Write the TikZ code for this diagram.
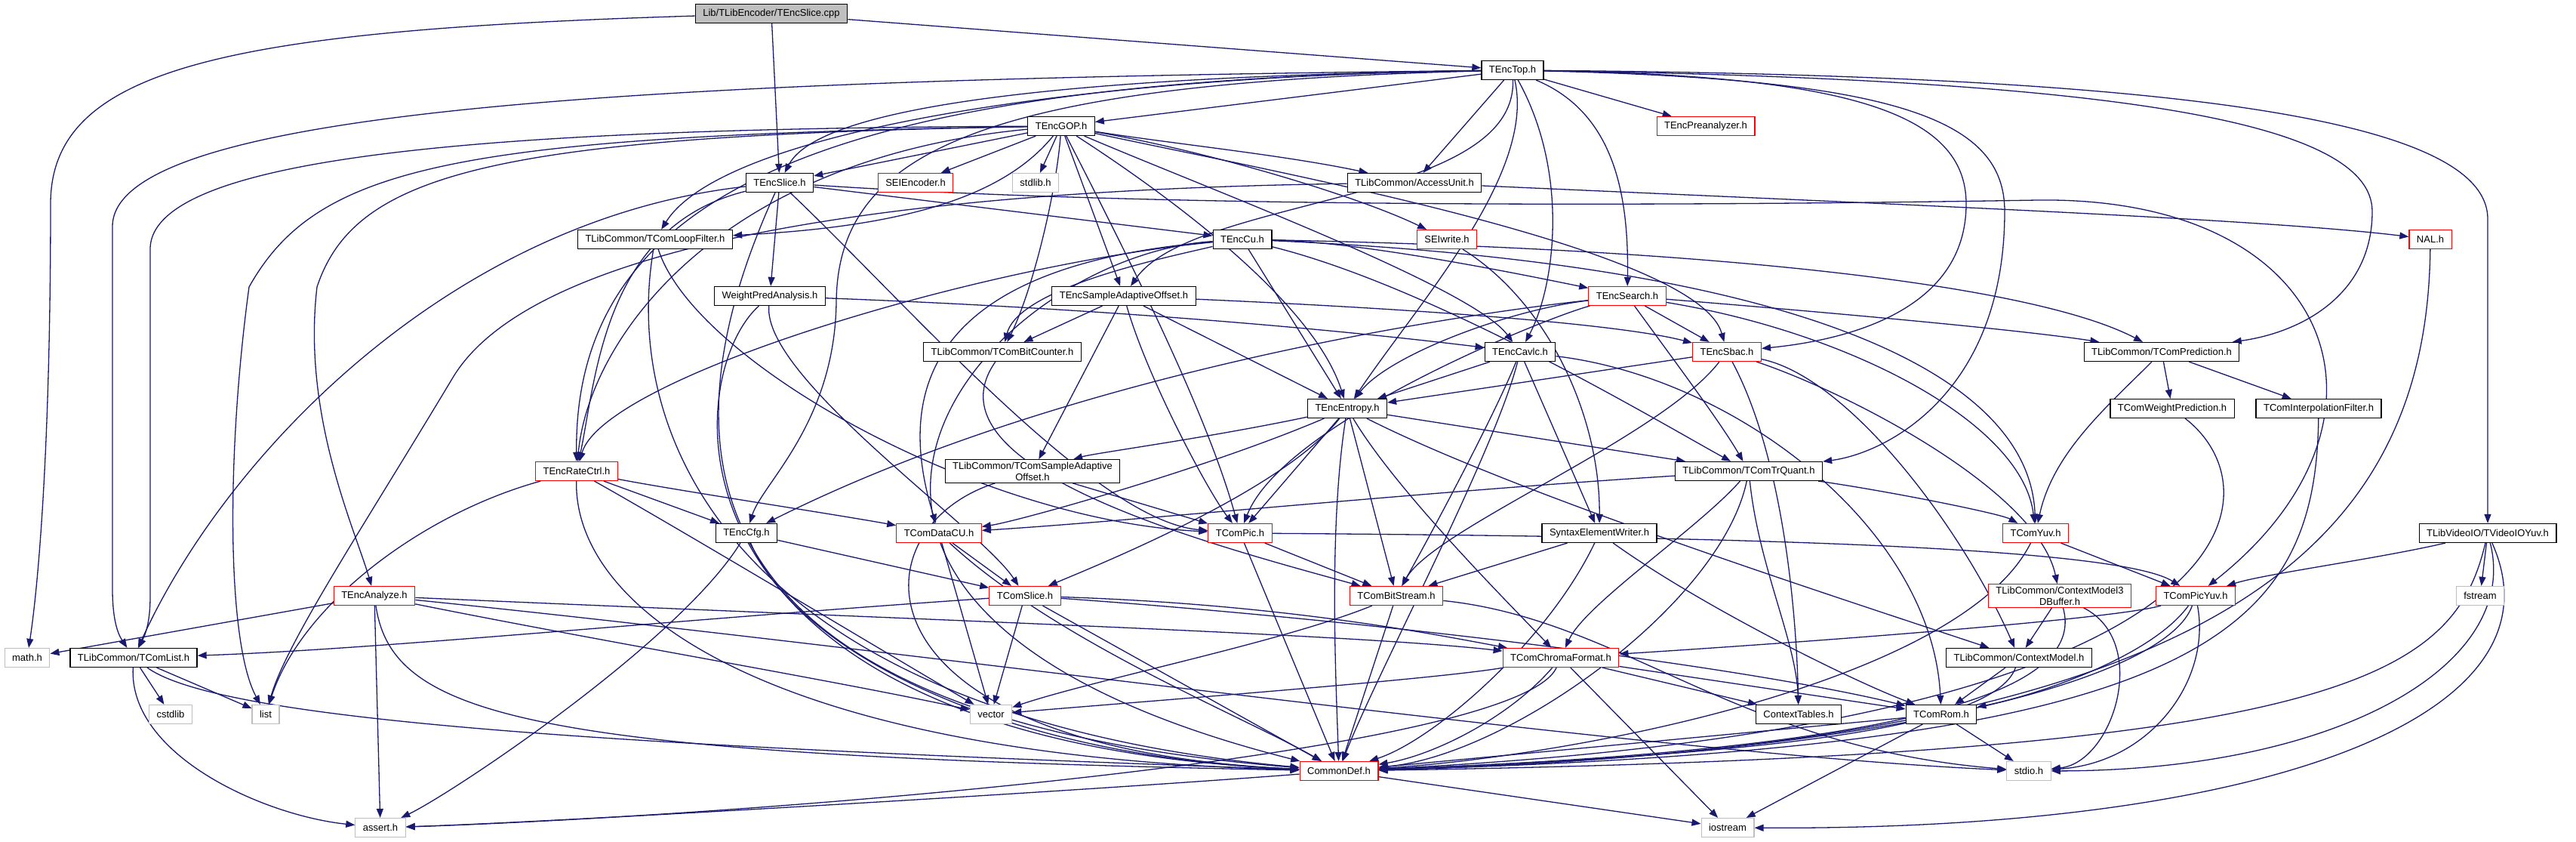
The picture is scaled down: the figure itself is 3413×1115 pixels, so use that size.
\documentclass[tikz,border=0pt]{standalone}
\usepackage{fontspec}
\setmainfont{Liberation Sans}
\usetikzlibrary{arrows.meta}
\definecolor{edgeblue}{HTML}{191970}
\definecolor{truncred}{HTML}{FF0000}
\definecolor{sysgray}{HTML}{BFBFBF}
\pgfdeclarelayer{paper}
\pgfdeclarelayer{wires}
\pgfsetlayers{paper,wires,main}

\begin{document}
\begin{tikzpicture}[x=1pt, y=-1pt,
  incbox/.style={rectangle, draw=black, fill=white, line width=1.2pt, minimum height=25pt,
                 inner xsep=10pt, inner ysep=3pt, align=center, font=\fontsize{13}{15}\selectfont},
  truncbox/.style={incbox, draw=truncred},
  sysbox/.style={incbox, draw=sysgray},
  rootbox/.style={incbox, fill=sysgray},
  incl/.style={draw=edgeblue, line width=1.3pt, -{Triangle[length=12pt, width=9pt]}},
]
\useasboundingbox (0,0) rectangle (3413,1115);
\begin{pgfonlayer}{paper}
\fill[white] (0,0) rectangle (3413,1115);
\end{pgfonlayer}
% ---- files, row by row
\node[rootbox] (cpp) at (1022,18) {Lib/TLibEncoder/TEncSlice.cpp};
\node[incbox] (top) at (2004,93) {TEncTop.h};
\node[incbox] (gop) at (1406,167) {TEncGOP.h};
\node[truncbox] (prea) at (2260,167) {TEncPreanalyzer.h};
\node[incbox] (sliceh) at (1033,242) {TEncSlice.h};
\node[truncbox] (seienc) at (1213,242) {SEIEncoder.h};
\node[sysbox] (stdlib) at (1372,242) {stdlib.h};
\node[incbox] (au) at (1874,242) {TLibCommon/AccessUnit.h};
\node[incbox] (loop) at (868,317) {TLibCommon/TComLoopFilter.h};
\node[incbox] (cu) at (1646,317) {TEncCu.h};
\node[truncbox] (seiw) at (1917,317) {SEIwrite.h};
\node[truncbox] (nal) at (3220,317) {NAL.h};
\node[incbox] (wpa) at (1020,392) {WeightPredAnalysis.h};
\node[incbox] (esao) at (1489,392) {TEncSampleAdaptiveOffset.h};
\node[truncbox] (search) at (2156,392) {TEncSearch.h};
\node[incbox] (bitcnt) at (1328,466) {TLibCommon/TComBitCounter.h};
\node[incbox] (cavlc) at (2014,466) {TEncCavlc.h};
\node[truncbox] (sbac) at (2288,466) {TEncSbac.h};
\node[incbox] (pred) at (2864,466) {TLibCommon/TComPrediction.h};
\node[incbox] (entropy) at (1785,541) {TEncEntropy.h};
\node[incbox] (wp) at (2878,541) {TComWeightPrediction.h};
\node[incbox] (interp) at (3072,541) {TComInterpolationFilter.h};
\node[truncbox] (rc) at (764,624) {TEncRateCtrl.h};
\node[incbox] (csao) at (1368,624) {TLibCommon/TComSampleAdaptive\\Offset.h};
\node[incbox] (trq) at (2317,624) {TLibCommon/TComTrQuant.h};
\node[incbox] (cfg) at (989,706) {TEncCfg.h};
\node[truncbox] (datacu) at (1244,706) {TComDataCU.h};
\node[truncbox] (pic) at (1643,706) {TComPic.h};
\node[incbox] (sew) at (2119,706) {SyntaxElementWriter.h};
\node[truncbox] (yuv) at (2697,706) {TComYuv.h};
\node[incbox] (vio) at (3296,706) {TLibVideoIO/TVideoIOYuv.h};
\node[truncbox] (ana) at (496,789) {TEncAnalyze.h};
\node[truncbox] (tslice) at (1358,789) {TComSlice.h};
\node[truncbox] (bs) at (1850,789) {TComBitStream.h};
\node[truncbox] (cm3d) at (2729,789) {TLibCommon/ContextModel3\\DBuffer.h};
\node[truncbox] (picyuv) at (2909,789) {TComPicYuv.h};
\node[sysbox] (fstream) at (3286,789) {fstream};
\node[sysbox] (math) at (36,871) {math.h};
\node[incbox] (tlist) at (177,871) {TLibCommon/TComList.h};
\node[truncbox] (chroma) at (2068,871) {TComChromaFormat.h};
\node[incbox] (cm) at (2675,871) {TLibCommon/ContextModel.h};
\node[sysbox] (cstdlib) at (226,946) {cstdlib};
\node[sysbox] (list) at (352,946) {list};
\node[sysbox] (vector) at (1313,946) {vector};
\node[incbox] (ctxtab) at (2383,946) {ContextTables.h};
\node[incbox] (rom) at (2572,946) {TComRom.h};
\node[truncbox] (cdef) at (1774,1021) {CommonDef.h};
\node[sysbox] (stdio) at (2688,1021) {stdio.h};
\node[sysbox] (assert) at (504,1096) {assert.h};
\node[sysbox] (iostream) at (2289,1096) {iostream};
\begin{pgfonlayer}{wires}
% ---- TEncSlice.cpp
\draw[incl] (cpp) .. controls (300,40) and (67,90) .. (67,270) .. controls (67,600) and (50,780) .. (math);
\draw[incl] (cpp) -- (sliceh);
\draw[incl] (cpp) -- (top);
% ---- TEncTop.h
\draw[incl] (top) -- (gop);
\draw[incl] (top) -- (prea);
\draw[incl] (top) -- (au);
\draw[incl] (top) .. controls (1500,100) and (1090,130) .. (sliceh);
\draw[incl] (top) .. controls (900,105) and (149,140) .. (149,300) -- (149,780) .. controls (149,830) and (160,845) .. (tlist);
\draw[incl] (top) .. controls (1450,100) and (960,170) .. (loop);
\draw[incl] (top) .. controls (1150,105) and (760,230) .. (rc);
\draw[incl] (top) .. controls (1300,110) and (1110,200) .. (1108,400) .. controls (1106,560) and (1010,640) .. (cfg);
\draw[incl] (top) .. controls (2010,270) and (1580,260) .. (esao);
\draw[incl] (top) .. controls (2035,230) and (1880,400) .. (entropy);
\draw[incl] (top) .. controls (2080,230) and (2060,380) .. (cavlc);
\draw[incl] (top) .. controls (2140,150) and (2158,260) .. (search);
\draw[incl] (top) .. controls (2450,100) and (2605,150) .. (2605,270) .. controls (2605,410) and (2450,450) .. (sbac);
\draw[incl] (top) .. controls (2520,105) and (2656,160) .. (2656,280) .. controls (2656,520) and (2500,600) .. (trq);
\draw[incl] (top) .. controls (2800,105) and (3143,160) .. (3143,280) .. controls (3143,390) and (3050,440) .. (pred);
\draw[incl] (top) .. controls (2900,100) and (3296,160) .. (3296,290) -- (vio);
% ---- TEncGOP.h
\draw[incl] (gop) -- (sliceh);
\draw[incl] (gop) -- (seienc);
\draw[incl] (gop) -- (stdlib);
\draw[incl] (gop) .. controls (1550,190) and (1700,205) .. (au);
\draw[incl] (gop) .. controls (1330,260) and (1200,300) .. (loop);
\draw[incl] (gop) .. controls (700,170) and (199,200) .. (199,330) -- (199,790) .. controls (199,830) and (190,845) .. (tlist);
\draw[incl] (gop) .. controls (600,180) and (420,220) .. (330,380) .. controls (300,600) and (300,850) .. (list);
\draw[incl] (gop) .. controls (650,180) and (470,230) .. (420,380) .. controls (400,550) and (470,700) .. (ana);
\draw[incl] (gop) .. controls (950,210) and (780,450) .. (rc);
\draw[incl] (gop) .. controls (1400,250) and (1370,380) .. (bitcnt);
\draw[incl] (gop) -- (esao);
\draw[incl] (gop) .. controls (1550,260) and (1740,400) .. (entropy);
\draw[incl] (gop) .. controls (1600,250) and (1950,380) .. (cavlc);
\draw[incl] (gop) .. controls (1600,200) and (1800,260) .. (seiw);
\draw[incl] (gop) .. controls (1700,230) and (2250,330) .. (sbac);
\draw[incl] (gop) .. controls (1500,350) and (1600,550) .. (pic);
% ---- TEncSlice.h
\draw[incl] (sliceh) .. controls (600,290) and (300,600) .. (tlist);
\draw[incl] (sliceh) .. controls (800,300) and (790,500) .. (rc);
\draw[incl] (sliceh) .. controls (870,600) and (900,950) .. (cdef);
\draw[incl] (sliceh) -- (wpa);
\draw[incl] (sliceh) -- (cu);
\draw[incl] (sliceh) .. controls (1200,400) and (1450,690) .. (pic);
\draw[incl] (sliceh) .. controls (1600,280) and (2400,270) .. (2700,265) .. controls (3100,260) and (3200,560) .. (picyuv);
% ---- AccessUnit.h, TComLoopFilter.h
\draw[incl] (au) .. controls (2500,270) and (3000,290) .. (nal);
\draw[incl] (au) .. controls (1300,250) and (720,300) .. (600,500) .. controls (480,700) and (380,850) .. (list);
\draw[incl] (loop) .. controls (920,480) and (1300,690) .. (pic);
\draw[incl] (loop) .. controls (820,600) and (1000,950) .. (cdef);
% ---- TEncCu.h
\draw[incl] (cu) .. controls (1800,320) and (2000,360) .. (search);
\draw[incl] (cu) .. controls (2300,330) and (2700,380) .. (pred);
\draw[incl] (cu) .. controls (2400,350) and (2690,500) .. (yuv);
\draw[incl] (cu) .. controls (1900,380) and (2200,560) .. (trq);
\draw[incl] (cu) .. controls (1550,340) and (1350,380) .. (bitcnt);
\draw[incl] (cu) .. controls (1250,350) and (1180,500) .. (datacu);
\draw[incl] (cu) -- (entropy);
\draw[incl] (cu) .. controls (1300,350) and (800,500) .. (rc);
\draw[incl] (cu) .. controls (1300,340) and (900,800) .. (cdef);
% ---- SEIwrite.h, NAL.h, WeightPredAnalysis.h
\draw[incl] (seiw) .. controls (2050,400) and (2120,550) .. (sew);
\draw[incl] (nal) .. controls (3215,750) and (2900,990) .. (cdef);
\draw[incl] (wpa) .. controls (1500,410) and (1800,440) .. (cavlc);
\draw[incl] (wpa) .. controls (1010,500) and (1300,700) .. (tslice);
\draw[incl] (wpa) .. controls (900,500) and (860,980) .. (cdef);
% ---- TEncSampleAdaptiveOffset.h
\draw[incl] (esao) -- (bitcnt);
\draw[incl] (esao) -- (csao);
\draw[incl] (esao) .. controls (1520,500) and (1600,650) .. (pic);
\draw[incl] (esao) -- (entropy);
\draw[incl] (esao) .. controls (1900,410) and (2150,430) .. (sbac);
% ---- TEncSearch.h
\draw[incl] (search) -- (sbac);
\draw[incl] (search) .. controls (2220,480) and (2280,560) .. (trq);
\draw[incl] (search) .. controls (2500,420) and (2700,440) .. (pred);
\draw[incl] (search) .. controls (2450,440) and (2680,560) .. (yuv);
\draw[incl] (search) .. controls (2000,410) and (1840,470) .. (entropy);
\draw[incl] (search) .. controls (2050,420) and (1700,560) .. (pic);
\draw[incl] (search) .. controls (1900,420) and (1400,500) .. (cfg);
% ---- TComBitCounter.h, TEncCavlc.h, TEncSbac.h
\draw[incl] (bitcnt) .. controls (1220,620) and (1600,720) .. (bs);
\draw[incl] (cavlc) -- (entropy);
\draw[incl] (cavlc) .. controls (1980,600) and (1820,900) .. (cdef);
\draw[incl] (cavlc) .. controls (1980,550) and (1900,700) .. (bs);
\draw[incl] (cavlc) -- (sew);
\draw[incl] (cavlc) .. controls (2300,500) and (2560,700) .. (rom);
\draw[incl] (sbac) -- (entropy);
\draw[incl] (sbac) .. controls (2200,580) and (1900,700) .. (bs);
\draw[incl] (sbac) .. controls (2360,600) and (2380,800) .. (ctxtab);
\draw[incl] (sbac) .. controls (2450,520) and (2700,650) .. (cm3d);
\draw[incl] (sbac) .. controls (2450,500) and (2600,700) .. (cm);
% ---- TComPrediction.h and its children
\draw[incl] (pred) .. controls (2790,540) and (2720,600) .. (yuv);
\draw[incl] (pred) -- (wp);
\draw[incl] (pred) -- (interp);
\draw[incl] (wp) .. controls (3020,650) and (3000,960) .. (cdef);
\draw[incl] (interp) .. controls (3068,850) and (2900,990) .. (cdef);
% ---- TEncEntropy.h
\draw[incl] (entropy) .. controls (1600,580) and (1450,600) .. (csao);
\draw[incl] (entropy) .. controls (1600,620) and (1350,690) .. (datacu);
\draw[incl] (entropy) -- (pic);
\draw[incl] (entropy) .. controls (1700,650) and (1450,750) .. (tslice);
\draw[incl] (entropy) -- (bs);
\draw[incl] (entropy) .. controls (1760,700) and (1770,900) .. (cdef);
\draw[incl] (entropy) .. controls (1850,650) and (2000,800) .. (chroma);
\draw[incl] (entropy) -- (trq);
\draw[incl] (entropy) .. controls (2000,650) and (2400,780) .. (cm);
% ---- TEncRateCtrl.h, TComSampleAdaptiveOffset.h
\draw[incl] (rc) .. controls (560,680) and (400,800) .. (list);
\draw[incl] (rc) -- (cfg);
\draw[incl] (rc) .. controls (900,650) and (1100,680) .. (datacu);
\draw[incl] (rc) .. controls (900,700) and (1200,880) .. (vector);
\draw[incl] (rc) .. controls (760,800) and (1000,1000) .. (cdef);
\draw[incl] (csao) -- (pic);
\draw[incl] (csao) .. controls (1130,700) and (1120,990) .. (cdef);
% ---- TComTrQuant.h
\draw[incl] (trq) .. controls (1900,650) and (1500,690) .. (datacu);
\draw[incl] (trq) .. controls (2500,650) and (2650,680) .. (yuv);
\draw[incl] (trq) .. controls (2250,700) and (2100,800) .. (chroma);
\draw[incl] (trq) .. controls (2330,750) and (2380,850) .. (ctxtab);
\draw[incl] (trq) .. controls (2280,800) and (2000,1000) .. (cdef);
% ---- TEncCfg.h, TComDataCU.h, TComPic.h, SyntaxElementWriter.h
\draw[incl] (cfg) .. controls (900,850) and (600,1050) .. (assert);
\draw[incl] (cfg) -- (tslice);
\draw[incl] (cfg) .. controls (1050,850) and (1300,1000) .. (cdef);
\draw[incl] (datacu) -- (tslice);
\draw[incl] (datacu) -- (vector);
\draw[incl] (datacu) .. controls (1400,850) and (1650,950) .. (cdef);
\draw[incl] (pic) .. controls (2200,710) and (2800,720) .. (picyuv);
\draw[incl] (pic) -- (bs);
\draw[incl] (pic) -- (cdef);
\draw[incl] (sew) -- (bs);
\draw[incl] (sew) .. controls (2050,850) and (1900,980) .. (cdef);
\draw[incl] (sew) .. controls (2250,800) and (2450,900) .. (rom);
% ---- TComYuv.h, TVideoIOYuv.h
\draw[incl] (yuv) -- (picyuv);
\draw[incl] (yuv) .. controls (2600,900) and (2100,1000) .. (cdef);
\draw[incl] (vio) .. controls (3150,740) and (3000,760) .. (picyuv);
\draw[incl] (vio) -- (fstream);
\draw[incl] (vio) .. controls (3250,900) and (3100,1000) .. (cdef);
\draw[incl] (vio) .. controls (3340,880) and (3100,1020) .. (stdio);
\draw[incl] (vio) .. controls (3405,950) and (3000,1100) .. (iostream);
% ---- TEncAnalyze.h
\draw[incl] (ana) -- (math);
\draw[incl] (ana) -- (assert);
\draw[incl] (ana) .. controls (520,950) and (700,1000) .. (cdef);
\draw[incl] (ana) .. controls (1200,820) and (1800,840) .. (chroma);
\draw[incl] (ana) .. controls (1200,860) and (2200,1000) .. (stdio);
\draw[incl] (ana) .. controls (800,850) and (1100,900) .. (vector);
% ---- TComSlice.h, TComBitStream.h
\draw[incl] (tslice) .. controls (900,820) and (500,860) .. (tlist);
\draw[incl] (tslice) -- (vector);
\draw[incl] (tslice) -- (cdef);
\draw[incl] (tslice) .. controls (1700,800) and (1900,840) .. (chroma);
\draw[incl] (tslice) .. controls (1800,820) and (2300,880) .. (rom);
\draw[incl] (bs) .. controls (1700,850) and (1450,900) .. (vector);
\draw[incl] (bs) -- (cdef);
\draw[incl] (bs) .. controls (2150,820) and (2300,990) .. (stdio);
% ---- context models, TComPicYuv.h
\draw[incl] (cm3d) -- (cm);
\draw[incl] (cm3d) .. controls (2760,900) and (2600,990) .. (cdef);
\draw[incl] (cm3d) .. controls (2850,850) and (2800,1010) .. (stdio);
\draw[incl] (picyuv) .. controls (2800,820) and (2400,850) .. (chroma);
\draw[incl] (picyuv) .. controls (2850,870) and (2700,920) .. (rom);
\draw[incl] (picyuv) .. controls (2870,900) and (2500,1000) .. (cdef);
\draw[incl] (picyuv) .. controls (2930,900) and (2850,1010) .. (stdio);
% ---- TComList.h, TComChromaFormat.h
\draw[incl] (tlist) -- (cstdlib);
\draw[incl] (tlist) -- (list);
\draw[incl] (tlist) .. controls (170,1000) and (350,1080) .. (assert);
\draw[incl] (tlist) .. controls (300,960) and (900,990) .. (cdef);
\draw[incl] (chroma) .. controls (1900,900) and (1500,930) .. (vector);
\draw[incl] (chroma) .. controls (2000,950) and (1900,1000) .. (cdef);
\draw[incl] (chroma) .. controls (2010,1000) and (1000,1080) .. (assert);
\draw[incl] (chroma) -- (iostream);
\draw[incl] (chroma) -- (ctxtab);
\draw[incl] (chroma) -- (rom);
% ---- ContextModel.h, TComRom.h, CommonDef.h
\draw[incl] (cm) -- (rom);
\draw[incl] (cm) .. controls (2640,970) and (2300,1000) .. (cdef);
\draw[incl] (rom) -- (stdio);
\draw[incl] (rom) -- (cdef);
\draw[incl] (rom) -- (iostream);
\draw[incl] (cdef) .. controls (1400,1050) and (700,1090) .. (assert);
\draw[incl] (cdef) -- (iostream);
\end{pgfonlayer}
\end{tikzpicture}
\end{document}
